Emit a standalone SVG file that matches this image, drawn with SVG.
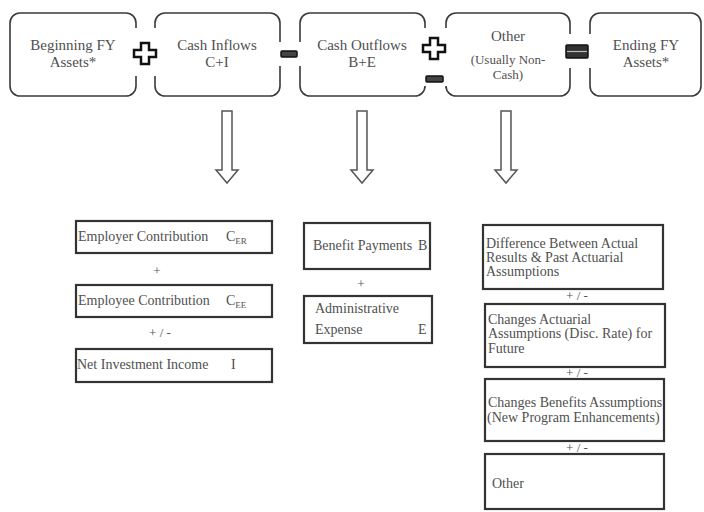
<svg xmlns="http://www.w3.org/2000/svg" width="704" height="512" viewBox="0 0 704 512">
<defs>
<style>
.frame{fill:none;stroke:#3a3a3a;stroke-width:1.6}
.box{fill:#fff;stroke:#333;stroke-width:2.2}
.arrow{fill:#fff;stroke:#555;stroke-width:1.5}
.t{font-family:"Liberation Serif","DejaVu Serif",serif;fill:#505050}
.top{font-size:15px;text-anchor:middle}
.lo{font-size:14px}
.op{font-size:13px;text-anchor:middle}
.plus{fill:#fff;stroke:#111;stroke-width:2.5;stroke-linejoin:miter}
.minus{fill:#444;stroke:#111;stroke-width:1.5}
</style>
</defs>
<rect width="704" height="512" fill="#fff"/>

<g id="beginning">
<path class="frame" d="M136,28 V23 A10,10 0 0 0 126,13 H20 A10,10 0 0 0 10,23 V86 A10,10 0 0 0 20,96 H126 A10,10 0 0 0 136,86 V76"/>
<text class="t top" x="73" y="50">Beginning FY</text>
<text class="t top" x="73" y="67">Assets*</text>
</g>
<g id="inflows">
<path class="frame" d="M155,28 V23 A10,10 0 0 1 165,13 H270 A10,10 0 0 1 280,23 V42 M155,76 V86 A10,10 0 0 0 165,96 H270 A10,10 0 0 0 280,86 V66"/>
<text class="t top" x="217" y="50">Cash Inflows</text>
<text class="t top" x="217" y="67">C+I</text>
</g>
<g id="outflows">
<path class="frame" d="M300,42 V23 A10,10 0 0 1 310,13 H415 A10,10 0 0 1 425,23 V28 M300,66 V86 A10,10 0 0 0 310,96 H415 A10,10 0 0 0 425,86 V88"/>
<text class="t top" x="362" y="50">Cash Outflows</text>
<text class="t top" x="362" y="67">B+E</text>
</g>
<g id="other-top">
<path class="frame" d="M446,28 V23 A10,10 0 0 1 456,13 H560 A10,10 0 0 1 570,23 V34 M446,88 V86 A10,10 0 0 0 456,96 H560 A10,10 0 0 0 570,86 V68"/>
<text class="t top" x="508" y="41">Other</text>
<text class="t" x="508" y="64" font-size="13" text-anchor="middle">(Usually Non-</text>
<text class="t" x="508" y="79" font-size="13" text-anchor="middle">Cash)</text>
</g>
<g id="ending">
<path class="frame" d="M590,34 V23 A10,10 0 0 1 600,13 H691 A10,10 0 0 1 701,23 V86 A10,10 0 0 1 691,96 H600 A10,10 0 0 1 590,86 V68"/>
<text class="t top" x="646" y="50">Ending FY</text>
<text class="t top" x="646" y="67">Assets*</text>
</g>

<g id="operators">
<polygon class="plus" points="141,43 149,43 149,50 156,50 156,57 149,57 149,64 141,64 141,57 134,57 134,50 141,50"/>
<rect class="minus" x="281" y="51" width="16" height="6" rx="1"/>
<polygon class="plus" points="430,38 438,38 438,45 445,45 445,52 438,52 438,59 430,59 430,52 423,52 423,45 430,45"/>
<rect class="minus" x="426" y="76" width="17" height="6" rx="1"/>
<rect x="566" y="45" width="22" height="13" rx="1" fill="#333" stroke="#111" stroke-width="1.5"/>
<line x1="567" y1="51.5" x2="587" y2="51.5" stroke="#bbb" stroke-width="1.2"/>
</g>

<g id="connectors">
<polygon class="arrow" points="222,111 232,111 232,170 238,170 227,183 216,170 222,170"/>
<polygon class="arrow" points="357,111 367,111 367,170 373,170 362,183 351,170 357,170"/>
<polygon class="arrow" points="501,111 511,111 511,170 517,170 506,183 495,170 501,170"/>
</g>

<g id="employer">
<rect class="box" x="76" y="221" width="196" height="32"/>
<text class="t lo" x="78" y="241">Employer Contribution</text>
<text class="t lo" x="226" y="241">C<tspan font-size="9" dy="3">ER</tspan></text>
</g>
<text class="t op" x="157" y="275">+</text>
<g id="employee">
<rect class="box" x="76" y="285" width="196" height="32"/>
<text class="t lo" x="78" y="305">Employee Contribution</text>
<text class="t lo" x="226" y="305">C<tspan font-size="9" dy="3">EE</tspan></text>
</g>
<text class="t op" x="160" y="337">+ / -</text>
<g id="investment">
<rect class="box" x="76" y="349" width="196" height="33"/>
<text class="t lo" x="77" y="369">Net Investment Income</text>
<text class="t lo" x="231" y="369">I</text>
</g>

<g id="benefits">
<rect class="box" x="304" y="223" width="126" height="46"/>
<text class="t lo" x="313" y="250">Benefit Payments</text>
<text class="t lo" x="418" y="250">B</text>
</g>
<text class="t op" x="361" y="288">+</text>
<g id="admin">
<rect class="box" x="304" y="296" width="128" height="47"/>
<text class="t lo" x="315" y="313">Administrative</text>
<text class="t lo" x="315" y="334">Expense</text>
<text class="t lo" x="418" y="334">E</text>
</g>

<g id="difference">
<rect class="box" x="483" y="225" width="180" height="64"/>
<text class="t lo" x="486" y="248">Difference Between Actual</text>
<text class="t lo" x="486" y="262">Results &amp; Past Actuarial</text>
<text class="t lo" x="486" y="276">Assumptions</text>
</g>
<text class="t op" x="577" y="300">+ / -</text>
<g id="actuarial">
<rect class="box" x="485" y="304" width="180" height="63"/>
<text class="t lo" x="488" y="324">Changes Actuarial</text>
<text class="t lo" x="488" y="338">Assumptions (Disc. Rate) for</text>
<text class="t lo" x="488" y="353">Future</text>
</g>
<text class="t op" x="577" y="377">+ / -</text>
<g id="program">
<rect class="box" x="485" y="379" width="179" height="62"/>
<text class="t lo" x="488" y="407">Changes Benefits Assumptions</text>
<text class="t lo" x="487" y="422">(New Program Enhancements)</text>
</g>
<text class="t op" x="577" y="452">+ / -</text>
<g id="other-bottom">
<rect class="box" x="485" y="454" width="179" height="55"/>
<text class="t lo" x="492" y="488">Other</text>
</g>
</svg>
